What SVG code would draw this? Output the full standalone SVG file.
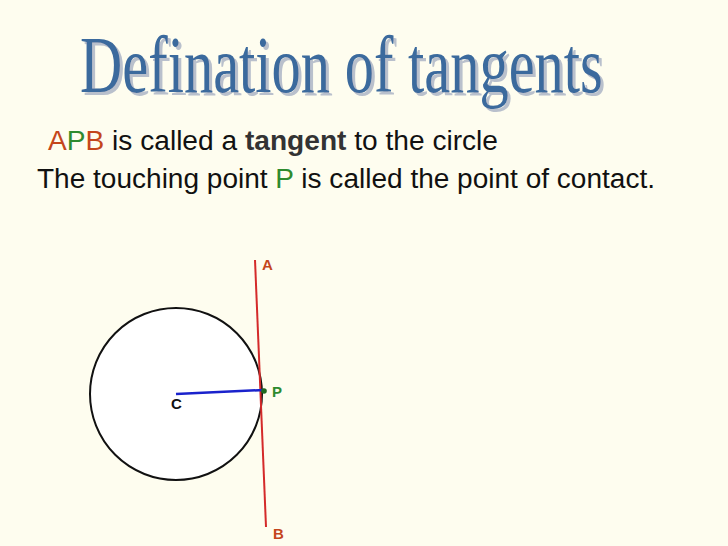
<svg xmlns="http://www.w3.org/2000/svg" width="728" height="546" viewBox="0 0 728 546">
<style>
.title{font-family:"Liberation Serif","Times New Roman",serif;font-size:80px}
.body{font-family:"Liberation Sans",Arial,sans-serif;font-size:27px;fill:#111}
.lbl{font-family:"Liberation Sans",Arial,sans-serif;font-size:15px;font-weight:bold}
.red{fill:#c4461c}
.grn{fill:#2e8b2e}
</style>
<defs>
<filter id="shadow" filterUnits="userSpaceOnUse" x="-50" y="-100" width="900" height="200">
<feOffset in="SourceAlpha" dx="4" dy="3" result="off"/>
<feFlood flood-color="#b9c0cc"/>
<feComposite in2="off" operator="in" result="sh"/>
<feMerge><feMergeNode in="sh"/><feMergeNode in="SourceGraphic"/></feMerge>
</filter>
</defs>
<rect width="728" height="546" fill="#fefdef"/>
<g id="title" transform="translate(80,92) scale(0.731,1)">
<text class="title" x="0" y="0" fill="#3b6a9d" filter="url(#shadow)">Defination of tangents</text>
</g>
<g id="text1">
<text class="body" x="48" y="150" textLength="450" lengthAdjust="spacingAndGlyphs"><tspan class="red">A</tspan><tspan class="grn">P</tspan><tspan class="red">B</tspan> is called a <tspan font-weight="bold" fill="#333">tangent</tspan> to the circle</text>
</g>
<g id="text2">
<text class="body" x="37" y="188" textLength="618" lengthAdjust="spacingAndGlyphs">The touching point <tspan class="grn">P</tspan> is called the point of contact.</text>
</g>
<g id="circle">
<circle cx="176" cy="394" r="86" fill="#ffffff" stroke="#111" stroke-width="2"/>
<text class="lbl" x="171" y="409" fill="#111">C</text>
</g>
<g id="connectors">
<line x1="255" y1="260" x2="266" y2="527" stroke="#d42a2a" stroke-width="2"/>
<line x1="176" y1="394" x2="264" y2="390" stroke="#1a22cc" stroke-width="2.5"/>
</g>
<g id="pointP">
<circle cx="264" cy="391" r="2.8" fill="#1f6a1f"/>
<text class="lbl grn" x="272" y="397">P</text>
</g>
<g id="pointA">
<text class="lbl red" x="262" y="270">A</text>
</g>
<g id="pointB">
<text class="lbl red" x="273" y="539">B</text>
</g>
</svg>
